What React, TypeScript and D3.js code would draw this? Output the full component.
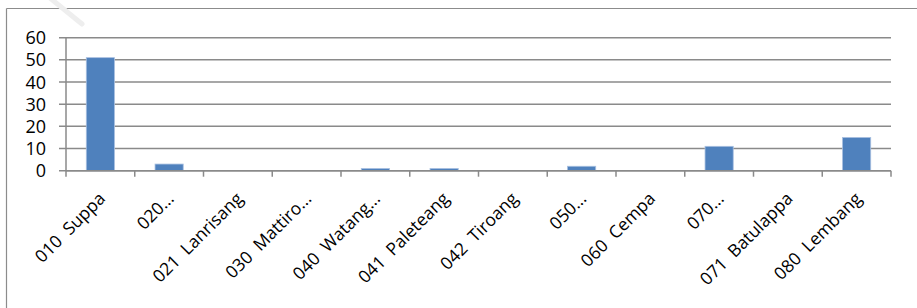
import React, { useEffect, useRef } from 'react';
import * as d3 from 'd3';

// kecamatan / desa labels as shown on the axis (Excel truncated some with "...")
const categories = [
  '010  Suppa',
  '020...',
  '021  Lanrisang',
  '030  Mattiro...',
  '040  Watang...',
  '041  Paleteang',
  '042  Tiroang',
  '050...',
  '060  Cempa',
  '070...',
  '071  Batulappa',
  '080  Lembang',
];
const values = [51, 3, 0, 0, 1, 1, 0, 2, 0, 11, 0, 15];
const yTicks = [0, 10, 20, 30, 40, 50, 60];

const W = 917;
const H = 308;

function App() {
  const ref = useRef<SVGSVGElement | null>(null);

  useEffect(() => {
    const svg = d3.select(ref.current);
    svg.selectAll('*').remove();

    const left = 66, right = 891, top = 37.7, bottom = 170.7;
    const font = "'Open Sans', 'DejaVu Sans', sans-serif";

    // outer chart frame (only top + left edges visible in the picture)
    svg.append('line')
      .attr('x1', 6.5).attr('y1', 8.5).attr('x2', W).attr('y2', 8.5)
      .attr('stroke', '#8c8c8c').attr('stroke-width', 1.2);
    svg.append('line')
      .attr('x1', 6.5).attr('y1', 8.5).attr('x2', 6.5).attr('y2', H)
      .attr('stroke', '#8c8c8c').attr('stroke-width', 1.2);

    // faint watermark stroke at the top
    svg.append('line')
      .attr('x1', 50).attr('y1', -2).attr('x2', 82).attr('y2', 24)
      .attr('stroke', '#eeeeee').attr('stroke-width', 5)
      .attr('stroke-linecap', 'round');

    const x = d3.scaleBand<string>()
      .domain(categories)
      .range([left, right])
      .padding(0);
    const y = d3.scaleLinear()
      .domain([0, 60])
      .range([bottom, top]);

    // gridlines + y ticks
    svg.append('g')
      .selectAll('line')
      .data(yTicks)
      .enter()
      .append('line')
      .attr('x1', left - 7)
      .attr('x2', right)
      .attr('y1', d => y(d))
      .attr('y2', d => y(d))
      .attr('stroke', '#8a8a8a')
      .attr('stroke-width', 1.5);

    svg.append('g')
      .selectAll('text')
      .data(yTicks)
      .enter()
      .append('text')
      .attr('x', 46)
      .attr('y', d => y(d))
      .attr('dy', '0.36em')
      .attr('text-anchor', 'end')
      .attr('font-family', font)
      .style('font-size', '18px')
      .attr('fill', '#000')
      .text(d => d);

    // bars
    const barW = x.bandwidth() * 0.41;
    svg.append('g')
      .selectAll('rect')
      .data(values)
      .enter()
      .append('rect')
      .attr('x', (d, i) => (x(categories[i]) as number) + x.bandwidth() / 2 - barW / 2)
      .attr('y', d => y(d))
      .attr('width', barW)
      .attr('height', d => bottom - y(d))
      .attr('fill', '#4f81bd')
      .attr('stroke', '#a9c0e0')
      .attr('stroke-width', 0.8);

    // axes lines
    svg.append('line')
      .attr('x1', left).attr('x2', left).attr('y1', top).attr('y2', bottom)
      .attr('stroke', '#8a8a8a').attr('stroke-width', 1.5);
    svg.append('line')
      .attr('x1', left).attr('x2', right).attr('y1', bottom).attr('y2', bottom)
      .attr('stroke', '#8a8a8a').attr('stroke-width', 1.5);

    // x tick marks at category boundaries
    const bounds = categories.map(c => x(c) as number).concat([right]);
    svg.append('g')
      .selectAll('line')
      .data(bounds)
      .enter()
      .append('line')
      .attr('x1', d => d).attr('x2', d => d)
      .attr('y1', bottom).attr('y2', bottom + 6)
      .attr('stroke', '#8a8a8a').attr('stroke-width', 1.5);

    // rotated category labels
    svg.append('g')
      .selectAll('text')
      .data(categories)
      .enter()
      .append('text')
      .attr('text-anchor', 'end')
      .attr('transform', d => {
        const cx = (x(d) as number) + x.bandwidth() / 2;
        return `translate(${cx + 6},${bottom + 29}) rotate(-45)`;
      })
      .attr('font-family', font)
      .style('font-size', '17.5px')
      .style('white-space', 'pre')
      .attr('fill', '#000')
      .text(d => d);
  }, []);

  return (
    <svg
      ref={ref}
      width={W}
      height={H}
      style={{ position: 'absolute', left: 0, top: 0, background: '#fff' }}
    />
  );
}

export default App;
